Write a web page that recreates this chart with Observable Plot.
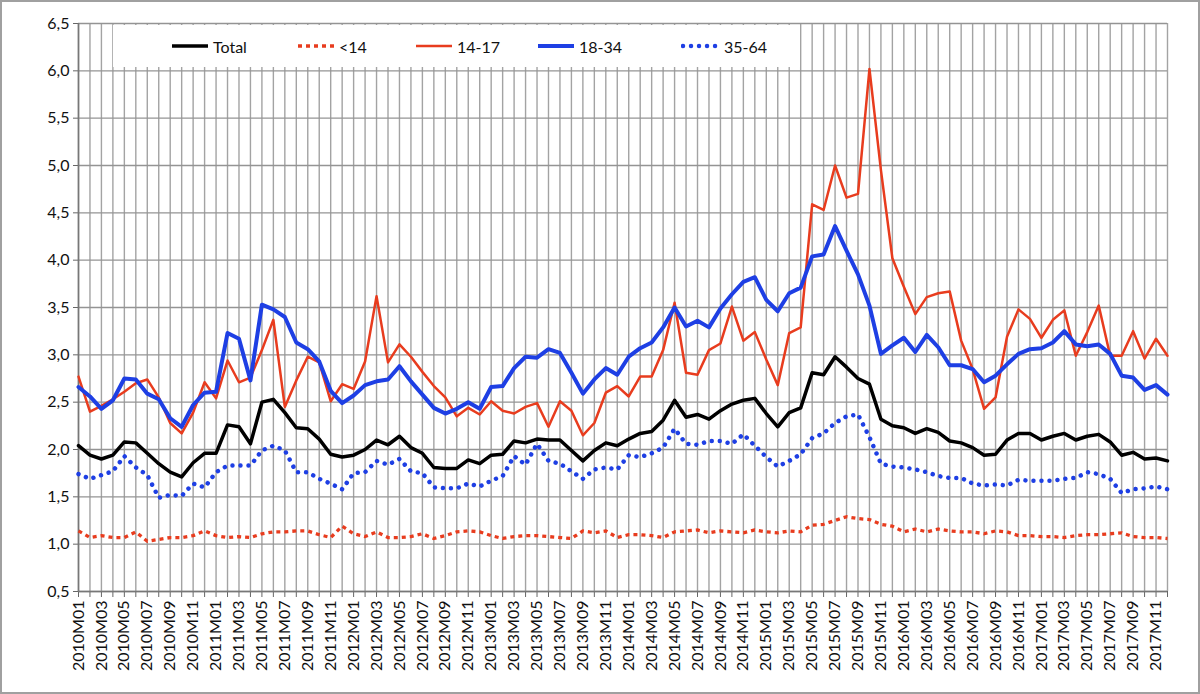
<!DOCTYPE html>
<html><head><meta charset="utf-8">
<script src="https://cdn.jsdelivr.net/npm/d3@7"></script>
<script src="https://cdn.jsdelivr.net/npm/@observablehq/plot@0.6"></script>
<style>
body{margin:0;background:#fff;}
#wrap{position:relative;width:1200px;height:694px;font-family:Lato,sans-serif;overflow:hidden;}
#frame{position:absolute;left:0;top:0;width:1196px;height:690px;border:2px solid #a0a0a0;pointer-events:none;}
#legend{position:absolute;left:113px;top:25px;width:687px;height:42px;background:#fff;}
.item{position:absolute;top:0;height:42px;display:flex;align-items:center;font-size:16px;color:#111;white-space:nowrap;}
.item svg{margin-right:3px;}
</style></head>
<body><div id="wrap"></div>
<script>
const years = ["2010","2011","2012","2013","2014","2015","2016","2017"];
const monthCodes = ["M01","M02","M03","M04","M05","M06","M07","M08","M09","M10","M11","M12"];
const months = years.flatMap(y => monthCodes.map(m => y + m));

const total = [2.04,1.94,1.90,1.94,2.08,2.07,1.96,1.85,1.76,1.71,1.86,1.96,
1.96,2.26,2.24,2.06,2.50,2.53,2.39,2.23,2.22,2.11,1.95,1.92,
1.94,2.00,2.10,2.05,2.14,2.02,1.96,1.81,1.80,1.80,1.89,1.85,
1.94,1.95,2.09,2.07,2.11,2.10,2.10,1.99,1.88,1.99,2.07,2.04,
2.11,2.17,2.19,2.31,2.52,2.34,2.37,2.32,2.41,2.48,2.52,2.54,
2.38,2.24,2.39,2.44,2.81,2.79,2.98,2.87,2.75,2.69,2.32,2.25,
2.23,2.17,2.22,2.18,2.09,2.07,2.02,1.94,1.95,2.10,2.17,2.17,
2.10,2.14,2.17,2.10,2.14,2.16,2.08,1.94,1.97,1.90,1.91,1.88];

const under14 = [1.14,1.07,1.09,1.07,1.07,1.13,1.03,1.05,1.07,1.07,1.09,1.14,
1.09,1.07,1.08,1.07,1.11,1.13,1.13,1.14,1.14,1.10,1.07,1.19,
1.11,1.08,1.13,1.07,1.07,1.08,1.11,1.06,1.09,1.13,1.14,1.13,
1.09,1.06,1.08,1.09,1.09,1.08,1.07,1.06,1.14,1.12,1.14,1.07,
1.10,1.10,1.09,1.07,1.13,1.14,1.15,1.12,1.14,1.13,1.12,1.15,
1.13,1.12,1.14,1.13,1.20,1.21,1.25,1.29,1.27,1.26,1.21,1.19,
1.13,1.16,1.13,1.16,1.14,1.13,1.13,1.11,1.14,1.13,1.09,1.09,
1.08,1.08,1.07,1.09,1.10,1.10,1.11,1.12,1.08,1.07,1.07,1.06];

const age14_17 = [2.77,2.40,2.46,2.53,2.61,2.70,2.74,2.55,2.28,2.17,2.39,2.71,
2.54,2.94,2.71,2.76,3.05,3.37,2.45,2.73,2.98,2.92,2.51,2.69,
2.64,2.93,3.62,2.92,3.11,2.98,2.82,2.67,2.55,2.35,2.44,2.37,
2.51,2.41,2.38,2.45,2.49,2.24,2.51,2.41,2.15,2.28,2.60,2.67,
2.56,2.77,2.77,3.05,3.55,2.81,2.79,3.05,3.12,3.51,3.15,3.24,
2.95,2.68,3.23,3.29,4.59,4.53,5.00,4.66,4.70,6.02,4.95,4.02,
3.72,3.43,3.61,3.65,3.67,3.15,2.85,2.43,2.55,3.19,3.48,3.38,
3.18,3.37,3.47,2.99,3.24,3.52,2.99,2.99,3.25,2.96,3.17,2.99];

const age18_34 = [2.66,2.56,2.43,2.52,2.75,2.74,2.59,2.53,2.33,2.24,2.47,2.60,
2.61,3.23,3.17,2.73,3.53,3.48,3.40,3.13,3.06,2.93,2.62,2.49,
2.57,2.68,2.72,2.74,2.88,2.72,2.58,2.44,2.38,2.43,2.50,2.43,
2.66,2.67,2.86,2.98,2.97,3.06,3.02,2.81,2.59,2.74,2.86,2.79,
2.98,3.07,3.13,3.29,3.50,3.30,3.36,3.29,3.49,3.64,3.77,3.82,
3.58,3.46,3.65,3.71,4.04,4.06,4.36,4.10,3.85,3.52,3.01,3.10,
3.18,3.03,3.21,3.08,2.89,2.89,2.85,2.71,2.78,2.90,3.01,3.06,
3.07,3.13,3.25,3.11,3.09,3.11,3.01,2.78,2.76,2.63,2.68,2.58];

const age35_64 = [1.74,1.69,1.73,1.77,1.93,1.81,1.73,1.49,1.52,1.51,1.64,1.60,
1.76,1.83,1.83,1.83,1.99,2.04,1.99,1.76,1.76,1.69,1.64,1.58,
1.75,1.76,1.88,1.84,1.90,1.77,1.75,1.60,1.59,1.59,1.64,1.61,
1.67,1.72,1.93,1.84,2.06,1.88,1.85,1.77,1.69,1.79,1.81,1.79,
1.94,1.92,1.96,2.02,2.22,2.06,2.05,2.09,2.09,2.06,2.16,2.04,
1.92,1.82,1.88,1.95,2.12,2.17,2.28,2.35,2.37,2.13,1.85,1.82,
1.81,1.79,1.76,1.72,1.70,1.70,1.64,1.62,1.63,1.62,1.68,1.67,
1.67,1.67,1.69,1.70,1.76,1.74,1.69,1.54,1.58,1.59,1.61,1.58];

const seriesNames = ["Total", "<14", "14-17", "18-34", "35-64"];
const yTicks = [0.5,1,1.5,2,2.5,3,3.5,4,4.5,5,5.5,6,6.5];
const xTickLabels = months.filter((d, i) => i % 2 === 0);

const seriesValues = [total, under14, age14_17, age18_34, age35_64];
const RED = "#e83c1e", BLUE = "#1e3fe4";
const styles = {
  "Total": {stroke: "#000", strokeWidth: 3.5},
  "<14": {stroke: RED, strokeWidth: 3.3, strokeDasharray: "4,4", strokeLinecap: "butt"},
  "14-17": {stroke: RED, strokeWidth: 2.5},
  "18-34": {stroke: BLUE, strokeWidth: 4},
  "35-64": {stroke: BLUE, strokeWidth: 4.5, strokeDasharray: "0.01,8", strokeLinecap: "round"}
};
const rows = seriesNames.map((name, k) =>
  seriesValues[k].map((v, i) => ({month: months[i], value: v, series: name})));

const plot = Plot.plot({
  width: 1200, height: 694,
  marginLeft: 78, marginRight: 33, marginTop: 23, marginBottom: 103,
  style: {fontFamily: "Lato, sans-serif", fontSize: "16px", color: "#111", background: "#fff", overflow: "visible"},
  x: {type: "point", domain: months, padding: 0},
  y: {domain: [0.5, 6.5]},
  marks: [
    Plot.ruleX(months, {stroke: "#a3a3a3", strokeWidth: 1.4}),
    Plot.ruleY(yTicks, {stroke: "#949494", strokeWidth: 1.4}),
    Plot.axisY({ticks: yTicks, tickFormat: d => d.toFixed(1).replace(".", ","), tickSize: 5, tickPadding: 4, fontSize: 16, stroke: "#666", label: null}),
    Plot.axisX({ticks: months, tickFormat: d => xTickLabels.includes(d) ? d : "", tickRotate: -90, tickSize: 6, tickPadding: 3, fontSize: 16, stroke: "#666", label: null}),
    Plot.ruleX([months[0]], {stroke: "#777", strokeWidth: 1.6}),
    Plot.ruleY([0.5], {stroke: "#777", strokeWidth: 1.6}),
    ...rows.map((r, k) => Plot.line(r, {x: "month", y: "value", strokeLinejoin: "round", ...styles[seriesNames[k]]}))
  ]
});

const wrap = document.getElementById("wrap");
wrap.appendChild(plot);

// legend (inside plot area, white box)
const legend = document.createElement("div");
legend.id = "legend";
const legendLeft = [57, 183, 301, 423, 568];
seriesNames.forEach((name, k) => {
  const s = styles[name];
  const item = document.createElement("div");
  item.className = "item";
  item.style.left = legendLeft[k] + "px";
  const dash = s.strokeDasharray ? `stroke-dasharray="${s.strokeDasharray}" stroke-linecap="${s.strokeLinecap}"` : "";
  item.innerHTML = `<svg width="40" height="10"><line x1="2" x2="38" y1="5" y2="5" stroke="${s.stroke}" stroke-width="${s.strokeWidth}" ${dash}/></svg><span></span>`;
  item.querySelector("span").textContent = name;
  legend.appendChild(item);
});
wrap.appendChild(legend);

const frame = document.createElement("div");
frame.id = "frame";
wrap.appendChild(frame);
</script>
</body></html>
